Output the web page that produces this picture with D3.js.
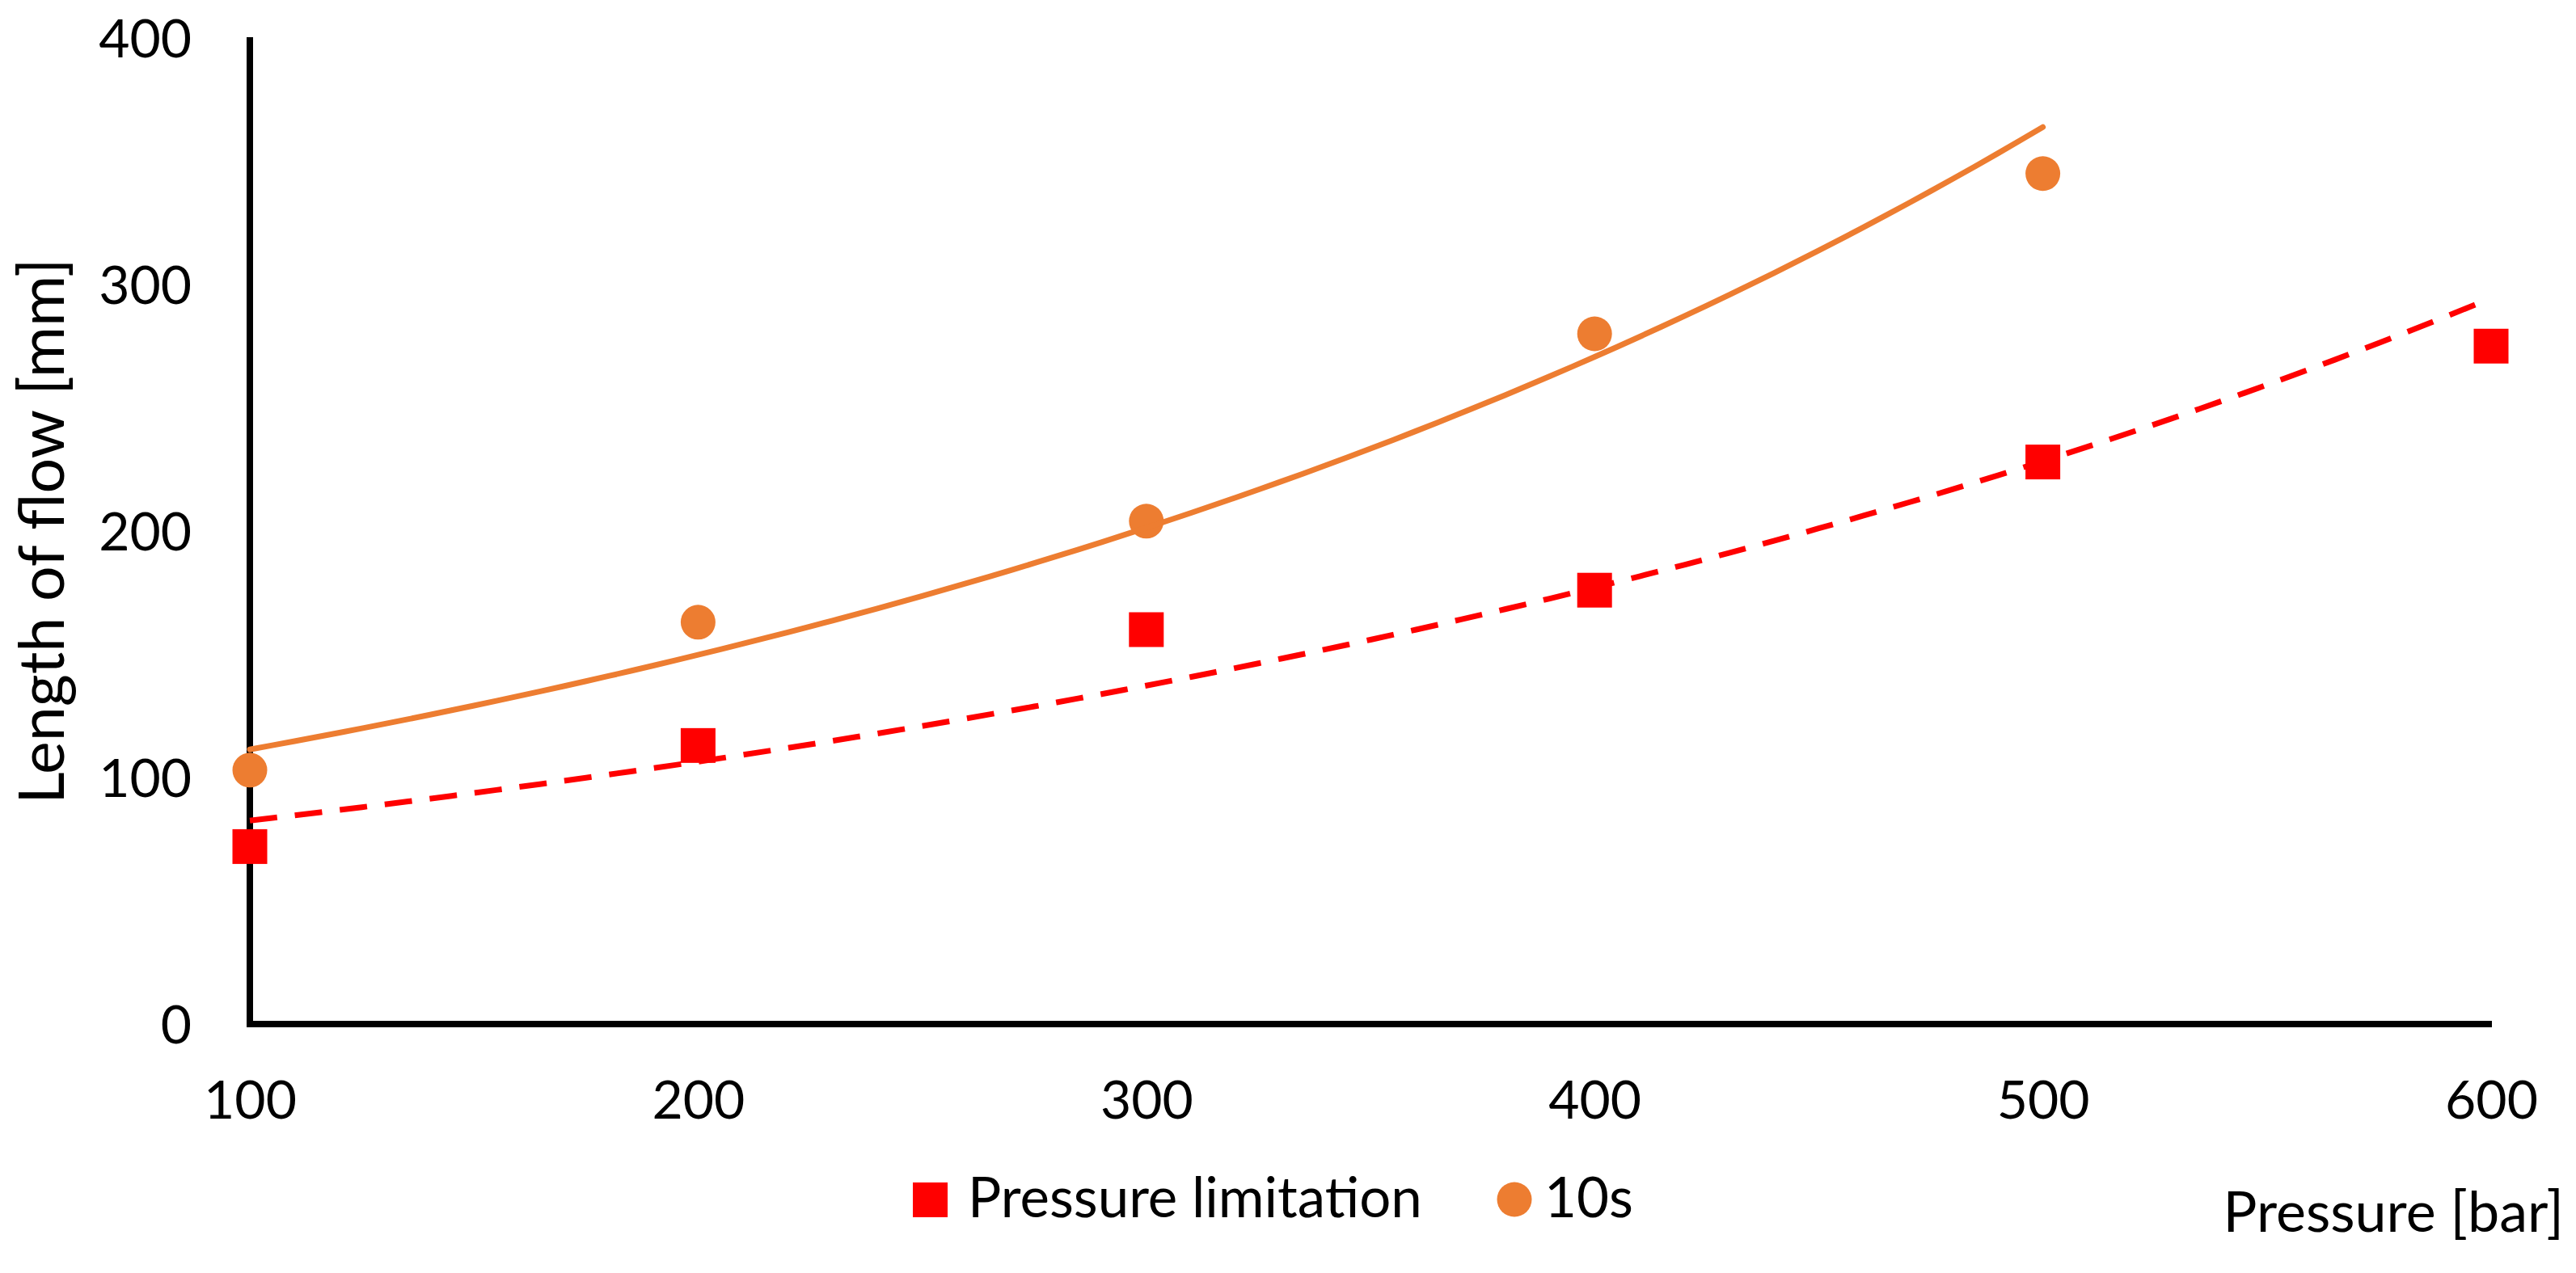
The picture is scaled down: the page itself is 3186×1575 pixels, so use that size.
<!DOCTYPE html>
<html>
<head>
<meta charset="utf-8">
<script src="https://cdn.jsdelivr.net/npm/d3@7"></script>
<style>
  body { margin: 0; background: #fff; }
  text { font-family: Lato, "Open Sans", sans-serif; fill: #000; }
</style>
</head>
<body>
<svg id="chart" width="3186" height="1575"></svg>
<script>
// data
const pressures = [100, 200, 300, 400, 500, 600];
const pressureLimitation = [72, 113, 160, 176, 228, 275];
const pressures10s = [100, 200, 300, 400, 500];
const values10s = [103, 163, 204, 280, 345];
const xTicks = [100, 200, 300, 400, 500, 600];
const yTicks = [0, 100, 200, 300, 400];

const svg = d3.select("#chart");

const x = d3.scaleLinear().domain([100, 600]).range([309, 3081]);
const y = d3.scaleLinear().domain([0, 400]).range([1267, 47]);

// exponential trendline (least squares on ln y), like Excel does
function expFit(xs, ys) {
    const ly = ys.map(v => Math.log(v));
    const mx = d3.mean(xs), my = d3.mean(ly);
    let sxy = 0, sxx = 0;
    xs.forEach((v, i) => {
        sxy += (v - mx) * (ly[i] - my);
        sxx += (v - mx) * (v - mx);
    });
    const b = sxy / sxx;
    const a = Math.exp(my - b * mx);
    return t => a * Math.exp(b * t);
}

// axes: just the two thick black lines, labels, no tick marks
const yAxis = svg.append("g")
    .attr("transform", `translate(${x(100)},0)`)
    .call(d3.axisLeft(y).tickValues(yTicks).tickSize(0).tickPadding(72));
yAxis.select(".domain").attr("stroke", "#000").attr("stroke-width", 8)
    .attr("d", `M0,${y(0) + 4}V${y(400) - 1}`);
yAxis.selectAll("text").style("font-size", "66px").attr("dy", "0.36em");

const xAxis = svg.append("g")
    .attr("transform", `translate(0,${y(0)})`)
    .call(d3.axisBottom(x).tickValues(xTicks).tickSize(0).tickPadding(70));
xAxis.select(".domain").attr("stroke", "#000").attr("stroke-width", 8)
    .attr("d", `M${x(100) - 4},0H${x(600) + 1}`);
xAxis.selectAll("text").style("font-size", "66px").attr("dy", "0.71em");

// axis titles
svg.append("text")
    .attr("transform", "translate(79,657) rotate(-90)")
    .attr("text-anchor", "middle")
    .style("font-size", "77px")
    .text("Length of flow [mm]");

svg.append("text")
    .attr("x", 3171)
    .attr("y", 1524)
    .attr("text-anchor", "end")
    .style("font-size", "70px")
    .text("Pressure [bar]");

// markers
const sq = 43;
svg.append("g").selectAll("rect")
    .data(pressures)
    .join("rect")
    .attr("x", (d) => x(d) - sq / 2)
    .attr("y", (d, i) => y(pressureLimitation[i]) - sq / 2)
    .attr("width", sq)
    .attr("height", sq)
    .attr("fill", "#ff0000");

svg.append("g").selectAll("circle")
    .data(pressures10s)
    .join("circle")
    .attr("cx", (d) => x(d))
    .attr("cy", (d, i) => y(values10s[i]))
    .attr("r", 21.5)
    .attr("fill", "#ed7d31");

// trendlines
const fitRed = expFit(pressures, pressureLimitation);
const fitOrange = expFit(pressures10s, values10s);
const line = d3.line().x(d => x(d[0])).y(d => y(d[1]));

svg.append("path")
    .attr("d", line(d3.range(100, 600.1, 5).map(t => [t, fitRed(t)])))
    .attr("fill", "none")
    .attr("stroke", "#ff0000")
    .attr("stroke-width", 7)
    .attr("stroke-dasharray", "34,22");

svg.append("path")
    .attr("d", line(d3.range(100, 500.1, 5).map(t => [t, fitOrange(t)])))
    .attr("fill", "none")
    .attr("stroke", "#ed7d31")
    .attr("stroke-width", 7)
    .attr("stroke-linecap", "round");

// legend
const legend = svg.append("g");
legend.append("rect")
    .attr("x", 1129).attr("y", 1463)
    .attr("width", sq).attr("height", sq)
    .attr("fill", "#ff0000");
legend.append("text")
    .attr("x", 1197).attr("y", 1506)
    .style("font-size", "69px")
    .text("Pressure limitation");
legend.append("circle")
    .attr("cx", 1873).attr("cy", 1484)
    .attr("r", 21.5)
    .attr("fill", "#ed7d31");
legend.append("text")
    .attr("x", 1910).attr("y", 1506)
    .style("font-size", "69px")
    .text("10s");
</script>
</body>
</html>
